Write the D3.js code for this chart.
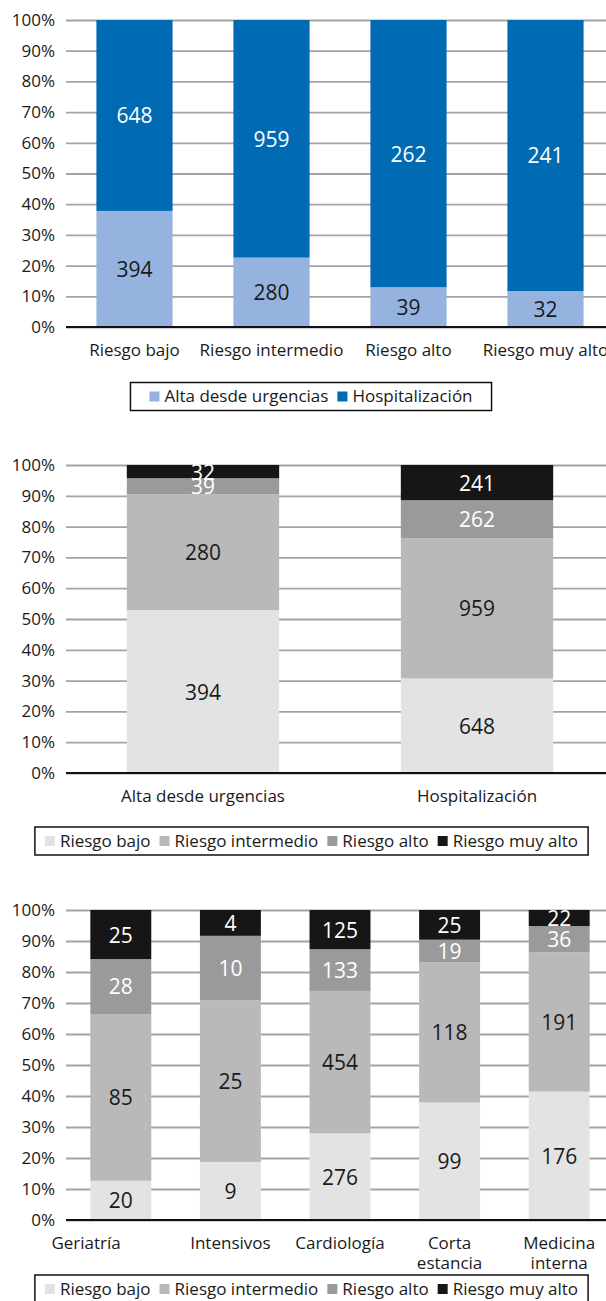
<!DOCTYPE html>
<html>
<head>
<meta charset="utf-8">
<script src="https://cdn.jsdelivr.net/npm/d3@7"></script>
<style>
  html, body { margin: 0; padding: 0; background: #fff; }
  svg { display: block; font-family: "Open Sans", "Noto Sans", sans-serif; }
</style>
</head>
<body>
<svg id="chart" width="606" height="1301"></svg>
<script>
// ---- Data ----
const riskLevels = ["Riesgo bajo", "Riesgo intermedio", "Riesgo alto", "Riesgo muy alto"];
const dischargeTypes = ["Alta desde urgencias", "Hospitalización"];
// patients per risk level, by destination
const altaUrgencias = [394, 280, 39, 32];
const hospitalizacion = [648, 959, 262, 241];

const services = ["Geriatría", "Intensivos", "Cardiología", "Corta estancia", "Medicina interna"];
// patients per hospital service, by risk level
const serviceBajo = [20, 9, 276, 99, 176];
const serviceIntermedio = [85, 25, 454, 118, 191];
const serviceAlto = [28, 10, 133, 19, 36];
const serviceMuyAlto = [25, 4, 125, 25, 22];

const percentTicks = [0, 10, 20, 30, 40, 50, 60, 70, 80, 90, 100];

// ---- Styles ----
const blueColors = ["#95b3de", "#006ab3"];
const blueLabelColors = ["#1a1a1a", "#ffffff"];
const greyColors = ["#e3e3e3", "#b9b9b9", "#9a9a9a", "#161616"];
const greyLabelColors = ["#1a1a1a", "#1a1a1a", "#ffffff", "#ffffff"];
const TEXT = "#1a1a1a";

const svg = d3.select("#chart");
svg.append("rect").attr("width", 606).attr("height", 1301).attr("fill", "#fff");

// Draws one 100% stacked column chart.
// series: array of {name, values[]} aligned with categories.
function stackedPercent(opt) {
  const g = svg.append("g");
  const x = d3.scaleBand().domain(opt.categories)
    .range([66, 614]).paddingInner(0.444).paddingOuter(0.222);
  const y = d3.scaleLinear().domain([0, 100]).range([opt.bottom, opt.top]);

  // gridlines + percentage labels
  const axis = d3.axisLeft(y).tickValues(percentTicks)
    .tickFormat(d => d + "%").tickSize(-(606 - 66)).tickPadding(11);
  const ax = g.append("g").attr("transform", "translate(66,0)").call(axis);
  ax.select(".domain").remove();
  ax.selectAll(".tick line")
    .attr("stroke", "#a3a3a3")
    .attr("stroke-width", 1.8);
  ax.selectAll(".tick text")
    .attr("fill", TEXT).attr("font-size", 17)
    .attr("font-family", "'Open Sans', sans-serif");

  // stack layout on percentage shares
  const rows = opt.categories.map((c, i) => {
    const row = { cat: c };
    const total = d3.sum(opt.series, s => s.values[i]);
    opt.series.forEach(s => { row[s.name] = s.values[i] / total * 100; row[s.name + "_n"] = s.values[i]; });
    return row;
  });
  const stack = d3.stack().keys(opt.series.map(s => s.name));
  const layers = stack(rows);

  const bars = g.append("g");
  layers.forEach((layer, li) => {
    bars.selectAll(null).data(layer).enter().append("rect")
      .attr("x", d => x(d.data.cat))
      .attr("width", x.bandwidth())
      .attr("y", d => y(d[1]))
      .attr("height", d => y(d[0]) - y(d[1]))
      .attr("fill", opt.colors[li]);
  });
  layers.forEach((layer, li) => {
    bars.selectAll(null).data(layer).enter().append("text")
      .attr("x", d => x(d.data.cat) + x.bandwidth() / 2)
      .attr("y", d => y((d[0] + d[1]) / 2))
      .attr("dy", "0.38em")
      .attr("text-anchor", "middle")
      .attr("font-size", 21)
      .attr("fill", opt.labelColors[li])
      .text(d => d.data[layer.key + "_n"]);
  });

  // baseline drawn over the bars
  g.append("line").attr("x1", 66).attr("x2", 606)
    .attr("y1", y(0)).attr("y2", y(0)).attr("stroke", "#111").attr("stroke-width", 2.2);

  // category labels (optionally wrapped on spaces when wider than the band step)
  const catG = g.append("g");
  opt.categories.forEach((c, ci) => {
    const cxPos = x(c) + x.bandwidth() / 2;
    const t = catG.append("text")
      .attr("x", cxPos)
      .attr("y", opt.bottom + 29)
      .attr("text-anchor", ci === 0 && opt.firstLabelEnd ? "end" : "middle")
      .attr("font-size", 17).attr("fill", TEXT)
      .text(c);
    if (opt.wrap && t.node().getComputedTextLength() > x.step() && c.includes(" ")) {
      const words = c.split(" ");
      t.text(null);
      words.forEach((w, wi) => {
        t.append("tspan").attr("x", cxPos)
          .attr("dy", wi === 0 ? 0 : 20).text(w);
      });
    }
  });

  // legend
  const lg = g.append("g");
  let cx = 0;
  opt.series.forEach((s, i) => {
    const it = lg.append("g");
    it.append("rect").attr("x", cx).attr("y", -5).attr("width", 10).attr("height", 10)
      .attr("fill", opt.colors[i]);
    const tx = it.append("text").attr("x", cx + 15).attr("y", 0).attr("dy", "0.35em")
      .attr("font-size", 17).attr("fill", TEXT).text(s.name);
    cx += 15 + tx.node().getComputedTextLength();
    if (i < opt.series.length - 1) cx += 9;
  });
  const boxW = cx + opt.legendPad * 2;
  const left = opt.legendCenter - boxW / 2;
  lg.attr("transform", `translate(${left + opt.legendPad},${opt.legendY})`);
  g.append("rect")
    .attr("x", left).attr("y", opt.legendY - 14)
    .attr("width", boxW).attr("height", 28)
    .attr("fill", "none").attr("stroke", "#111").attr("stroke-width", 1.5);
}

// Chart 1: destination share within each risk level
stackedPercent({
  categories: riskLevels,
  series: [
    { name: dischargeTypes[0], values: altaUrgencias },
    { name: dischargeTypes[1], values: hospitalizacion }
  ],
  colors: blueColors, labelColors: blueLabelColors,
  top: 20, bottom: 327,
  legendY: 396.5, legendCenter: 311, legendPad: 19, wrap: false
});

// Chart 2: risk level mix within each destination
stackedPercent({
  categories: dischargeTypes,
  series: riskLevels.map((r, i) => ({ name: r, values: [altaUrgencias[i], hospitalizacion[i]] })),
  colors: greyColors, labelColors: greyLabelColors,
  top: 465, bottom: 773,
  legendY: 841, legendCenter: 311.5, legendPad: 10, wrap: false
});

// Chart 3: risk level mix within each hospital service
stackedPercent({
  categories: services,
  series: [
    { name: riskLevels[0], values: serviceBajo },
    { name: riskLevels[1], values: serviceIntermedio },
    { name: riskLevels[2], values: serviceAlto },
    { name: riskLevels[3], values: serviceMuyAlto }
  ],
  colors: greyColors, labelColors: greyLabelColors,
  top: 910, bottom: 1220,
  legendY: 1289, legendCenter: 311.5, legendPad: 10, wrap: true, firstLabelEnd: true
});
</script>
</body>
</html>
